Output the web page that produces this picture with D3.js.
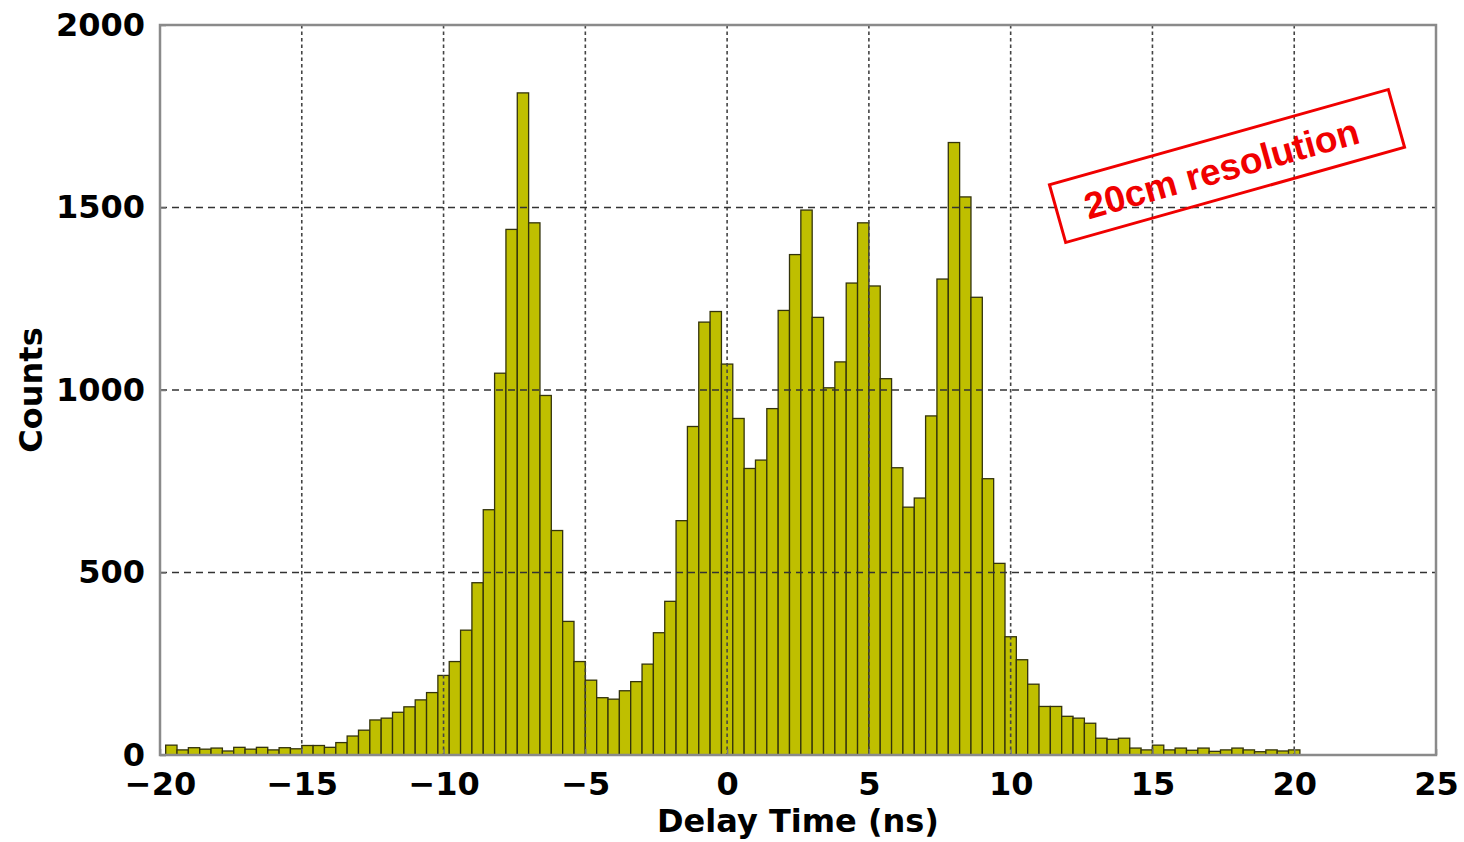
<!DOCTYPE html>
<html>
<head>
<meta charset="utf-8">
<script src="https://cdn.jsdelivr.net/npm/d3@7"></script>
<style>
	html, body { margin:0; padding:0; background:#fff; }
	svg { display:block; }
	.tick text { font-family:"DejaVu Sans", sans-serif; font-weight:bold; font-size:32px; fill:#000; }
	.axis-label { font-family:"DejaVu Sans", sans-serif; font-weight:bold; font-size:32px; fill:#000; }
	.note { font-family:"Liberation Sans", Arial, sans-serif; font-weight:bold; font-size:37px; fill:#f00000; }
</style>
</head>
<body>
<svg id="chart" width="1464" height="842"></svg>
<script>
// Histogram bins: 0.4 ns wide, first bin starts at -19.8 ns
const binStart = -19.8;
const binWidth = 0.4;
const counts = [
	27, 14, 20, 16, 19, 11, 21, 16, 21, 14, 20, 17, 26, 26, 21, 34, 52, 68, 96, 101, 117,
	132, 151, 171, 218, 256, 342, 472, 672, 1046, 1440, 1814, 1458, 985, 615, 366, 256, 205, 157, 153, 176,
	201, 249, 335, 421, 642, 900, 1186, 1215, 1071, 922, 785, 808, 949, 1218, 1371, 1493, 1199, 1006, 1077, 1293,
	1458, 1285, 1031, 787, 679, 704, 929, 1304, 1678, 1529, 1254, 757, 525, 324, 261, 194, 133, 133, 106, 101,
	87, 46, 43, 46, 19, 14, 27, 14, 19, 13, 19, 10, 14, 19, 14, 9, 14, 11, 14
];
const xTicks = [-20, -15, -10, -5, 0, 5, 10, 15, 20, 25];
const yTicks = [0, 500, 1000, 1500, 2000];
const xDomain = [-20, 25];
const yDomain = [0, 2000];
const xAxisLabel = 'Delay Time (ns)';
const yAxisLabel = 'Counts';
const noteText = '20cm resolution';

const svg = d3.select('#chart');
const W = +svg.attr('width');
const H = +svg.attr('height');
const margin = {top:25, right:28, bottom:87, left:160};
const innerWidth = W - margin.left - margin.right;
const innerHeight = H - margin.top - margin.bottom;

const xScale = d3.scaleLinear().domain(xDomain).range([0, innerWidth]);
const yScale = d3.scaleLinear().domain(yDomain).range([innerHeight, 0]);

const data = counts.map((c, i) => ({x0: binStart + i*binWidth, x1: binStart + (i+1)*binWidth, count: c}));

const g = svg.append('g')
	.attr('transform', `translate(${margin.left},${margin.top})`);

// bars
g.selectAll('rect.bar').data(data)
	.enter().append('rect')
	.attr('class', 'bar')
	.attr('x', d => xScale(d.x0))
	.attr('width', d => xScale(d.x1) - xScale(d.x0))
	.attr('y', d => yScale(d.count))
	.attr('height', d => innerHeight - yScale(d.count))
	.attr('fill', '#bfbf00')
	.attr('stroke', '#33330c')
	.attr('stroke-width', 1.3);

// grid on top of bars
g.append('g').selectAll('line')
	.data(xTicks.filter(t => t > xDomain[0] && t < xDomain[1]))
	.enter().append('line')
	.attr('x1', d => xScale(d)).attr('x2', d => xScale(d))
	.attr('y1', 0).attr('y2', innerHeight)
	.attr('stroke', '#444').attr('stroke-width', 1.6)
	.attr('stroke-dasharray', '3.5,3');

g.append('g').selectAll('line')
	.data(yTicks.filter(t => t > yDomain[0] && t < yDomain[1]))
	.enter().append('line')
	.attr('x1', 0).attr('x2', innerWidth)
	.attr('y1', d => yScale(d)).attr('y2', d => yScale(d))
	.attr('stroke', '#333').attr('stroke-width', 1.6)
	.attr('stroke-dasharray', '7,5');

// axes (ticks pointing inward, like the original)
const xAxis = d3.axisBottom(xScale)
	.tickValues(xTicks)
	.tickSize(-6)
	.tickPadding(17);
const xAxisG = g.append('g').call(xAxis)
	.attr('transform', `translate(0,${innerHeight})`);
xAxisG.select('.domain').remove();
xAxisG.selectAll('.tick line').attr('stroke', '#777').attr('stroke-width', 1.5);

const yAxis = d3.axisLeft(yScale)
	.tickValues(yTicks)
	.tickFormat(d3.format('d'))
	.tickSize(-6)
	.tickPadding(15);
const yAxisG = g.append('g').call(yAxis);
yAxisG.select('.domain').remove();
yAxisG.selectAll('.tick line').attr('stroke', '#777').attr('stroke-width', 1.5);

// frame
g.append('rect')
	.attr('x', 0).attr('y', 0)
	.attr('width', innerWidth).attr('height', innerHeight)
	.attr('fill', 'none')
	.attr('stroke', '#8a8a8a')
	.attr('stroke-width', 2.5);

// axis labels
g.append('text')
	.attr('class', 'axis-label')
	.attr('x', innerWidth/2)
	.attr('y', innerHeight + 77)
	.attr('text-anchor', 'middle')
	.text(xAxisLabel);

g.append('text')
	.attr('class', 'axis-label')
	.attr('transform', `translate(${-118},${innerHeight/2}) rotate(-90)`)
	.attr('text-anchor', 'middle')
	.text(yAxisLabel);

// annotation box
const note = svg.append('g')
	.attr('transform', 'translate(1227,166) rotate(-15.7)');
note.append('rect')
	.attr('x', -176).attr('y', -30)
	.attr('width', 352).attr('height', 60)
	.attr('fill', 'none')
	.attr('stroke', '#f00000')
	.attr('stroke-width', 3);
note.append('text')
	.attr('class', 'note')
	.attr('x', -6).attr('y', 14)
	.attr('text-anchor', 'middle')
	.text(noteText);
</script>
</body>
</html>
